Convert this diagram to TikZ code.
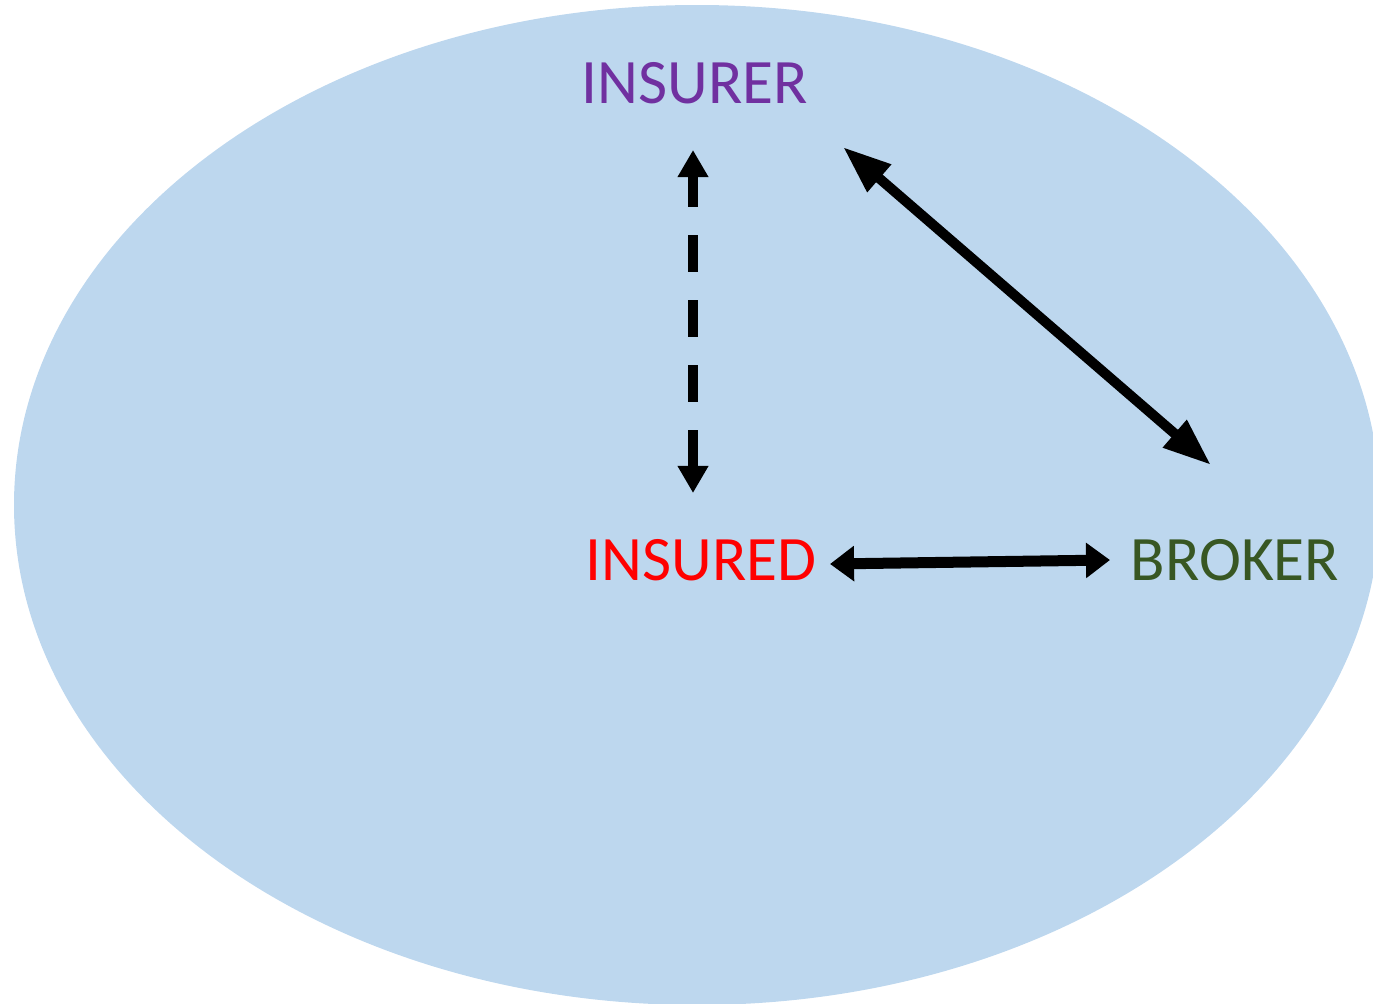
\documentclass[tikz,border=0pt]{standalone}
\usepackage{fontspec}
\setmainfont{Carlito}
\usetikzlibrary{arrows.meta,calc}
\definecolor{ellfill}{HTML}{BDD7EE}
\definecolor{cpurple}{HTML}{7030A0}
\definecolor{cred}{HTML}{FF0000}
\definecolor{cgreen}{HTML}{385723}
\tikzset{
  lbl/.style={inner sep=0pt, font=\fontsize{18}{22}\selectfont},
  link/.style={line width=0.1cm, draw=black},
  vlink/.style={link, {Triangle[length=0.27cm,width=0.29cm]}-{Triangle[length=0.27cm,width=0.29cm]}, dash pattern=on 0.37cm off 0.28cm, dash phase=0.05cm},
  dlink/.style={link, {Triangle[length=0.48cm,width=0.34cm]}-{Triangle[length=0.48cm,width=0.34cm]}},
  hlink/.style={link, line width=0.11cm, {Triangle[length=0.24cm,width=0.34cm]}-{Triangle[length=0.24cm,width=0.34cm]}},
}
\begin{document}
\begin{tikzpicture}[x=0.01cm,y=-0.01cm]
\useasboundingbox (0,0) rectangle (1373,1003);
\clip (0,0) rectangle (1373,1003);
\fill[ellfill] (697,505) ellipse [x radius=683, y radius=500];
\node[lbl, text=cpurple] (insurer) at (695,83) {INSURER};
\node[lbl, text=cred] (insured) at (701,560) {INSURED};
\node[lbl, text=cgreen] (broker) at (1235,560) {BROKER};
\draw[vlink] ($(insurer.center)+(-2,67)$) -- ($(insured.center)+(-8,-67)$);
\draw[dlink] ($(insurer.center)+(148,64)$) -- ($(broker.center)+(-24,-95)$);
\draw[hlink] ($(insured.center)+(129,4)$) -- ($(broker.center)+(-125,0)$);
\end{tikzpicture}
\end{document}
